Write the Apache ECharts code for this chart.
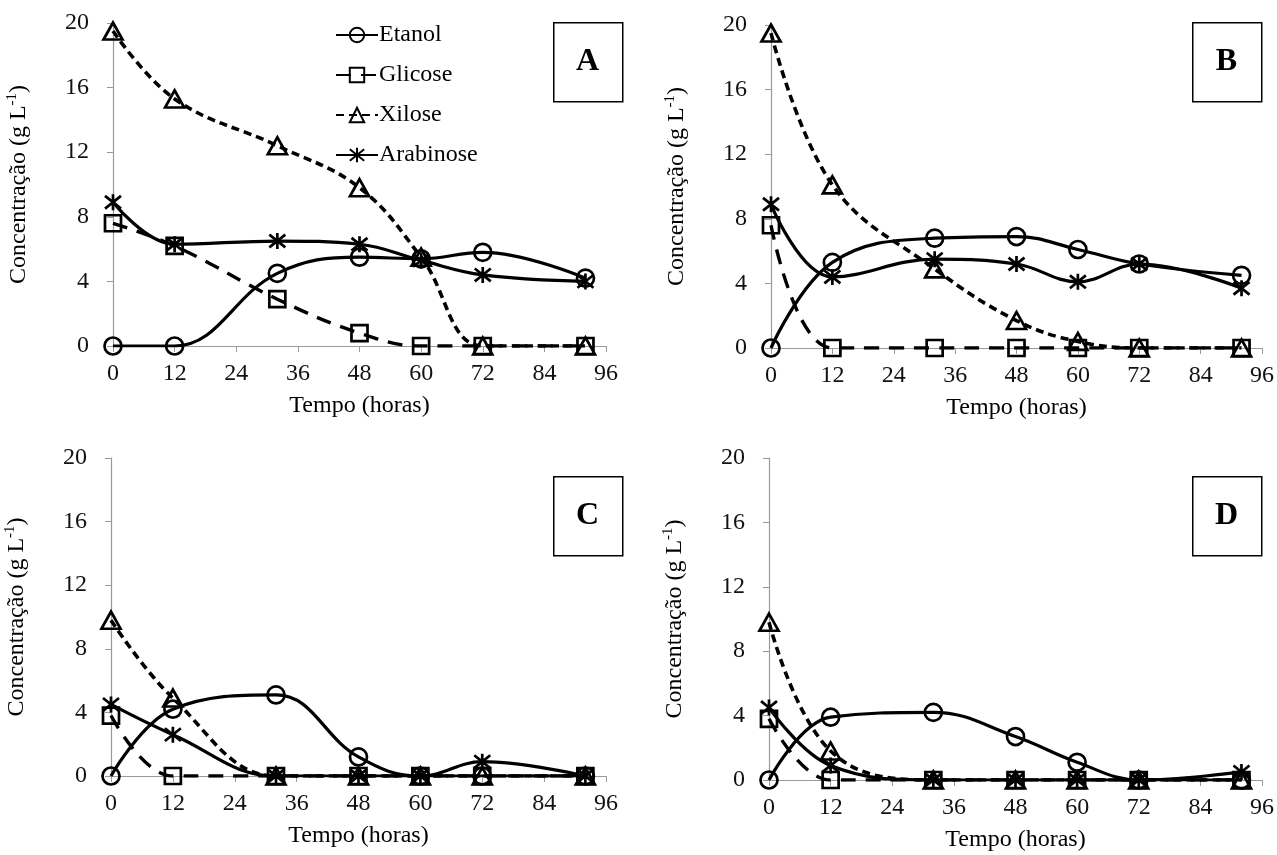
<!DOCTYPE html>
<html>
<head>
<meta charset="utf-8">
<script src="https://cdn.jsdelivr.net/npm/echarts@6/dist/echarts.min.js"></script>
<style>
html, body { margin: 0; padding: 0; background: #fff; }
#chart { width: 1277px; height: 855px; }
</style>
</head>
<body>
<div id="chart"></div>
<script>
// tempo de amostragem (horas)
var tempo = [0, 12, 32, 48, 60, 72, 92];
var nomes = ['Etanol', 'Glicose', 'Xilose', 'Arabinose'];
var paineis = ['A', 'B', 'C', 'D'];

// painel A
var etanolA = [0, 0, 4.5, 5.5, 5.4, 5.8, 4.2];
var glicoseA = [7.6, 6.2, 2.9, 0.8, 0, 0, 0];
var xiloseA = [19.5, 15.3, 12.4, 9.8, 5.5, 0, 0];
var arabinoseA = [8.9, 6.3, 6.5, 6.3, 5.3, 4.4, 4.0];
// painel B
var etanolB = [0, 5.3, 6.8, 6.9, 6.1, 5.2, 4.5];
var glicoseB = [7.6, 0, 0, 0, 0, 0, 0];
var xiloseB = [19.5, 10.1, 4.9, 1.7, 0.4, 0, 0];
var arabinoseB = [8.9, 4.4, 5.5, 5.2, 4.1, 5.2, 3.7];
// painel C
var etanolC = [0, 4.2, 5.1, 1.2, 0, 0, 0];
var glicoseC = [3.8, 0, 0, 0, 0, 0, 0];
var xiloseC = [9.8, 4.9, 0, 0, 0, 0, 0];
var arabinoseC = [4.5, 2.6, 0, 0, 0, 0.9, 0];
// painel D
var etanolD = [0, 3.9, 4.2, 2.7, 1.1, 0, 0];
var glicoseD = [3.8, 0, 0, 0, 0, 0, 0];
var xiloseD = [9.8, 1.8, 0, 0, 0, 0, 0];
var arabinoseD = [4.5, 0.9, 0, 0, 0, 0, 0.5];

var dados = [
    [etanolA, glicoseA, xiloseA, arabinoseA],
    [etanolB, glicoseB, xiloseB, arabinoseB],
    [etanolC, glicoseC, xiloseC, arabinoseC],
    [etanolD, glicoseD, xiloseD, arabinoseD]
];

var fonte = 'Liberation Serif';

// posicao de cada grafico (pixels)
var grids = [
    { left: 113, top: 23, width: 493, height: 323 },
    { left: 771, top: 25, width: 491, height: 323 },
    { left: 111, top: 458, width: 495, height: 318 },
    { left: 769, top: 458, width: 494, height: 322 }
];
// caixas com as letras
var caixas = [
    { x: 553, y: 22 }, { x: 1192, y: 22 }, { x: 553, y: 476 }, { x: 1192, y: 476 }
];

// estilo de cada serie: simbolo, tamanho, tracejado
var estilos = [
    { symbol: 'circle', size: 17, type: 'solid', w: 3.2 },
    { symbol: 'rect', size: 16, type: [15, 10], w: 3.4 },
    { symbol: 'triangle', size: [19, 17], type: [8, 5], w: 3.6 },
    { symbol: 'path://M10,0L10,20M0,2L20,18M0,18L20,2', size: 16, type: 'solid', w: 3.2 }
];

var xAxis = [], yAxis = [], series = [], graphic = [];
grids.forEach(function (g, i) {
    xAxis.push({
        gridIndex: i, type: 'value', min: 0, max: 96, interval: 12,
        name: 'Tempo (horas)', nameLocation: 'middle', nameGap: 48,
        nameTextStyle: { fontFamily: fonte, fontSize: 24, color: '#000' },
        axisLine: { lineStyle: { color: '#9a9a9a', width: 1.2 } },
        axisTick: { show: true, length: 6, lineStyle: { color: '#9a9a9a' } },
        axisLabel: { fontFamily: fonte, fontSize: 24, color: '#111', margin: 16 },
        splitLine: { show: false }
    });
    yAxis.push({
        gridIndex: i, type: 'value', min: 0, max: 20, interval: 4,
        name: 'Concentração (g L{sup|-1})', nameLocation: 'middle', nameGap: 80,
        nameTextStyle: {
            fontFamily: fonte, fontSize: 24, color: '#000', lineHeight: 28,
            rich: { sup: { fontFamily: fonte, fontSize: 15, color: '#000', verticalAlign: 'top', lineHeight: 15 } }
        },
        axisLine: { show: true, lineStyle: { color: '#9a9a9a', width: 1.2 } },
        axisTick: { show: true, length: 6, lineStyle: { color: '#9a9a9a' } },
        axisLabel: { fontFamily: fonte, fontSize: 24, color: '#111', margin: 24 },
        splitLine: { show: false }
    });
    dados[i].forEach(function (valores, k) {
        var e = estilos[k];
        series.push({
            name: nomes[k], type: 'line', xAxisIndex: i, yAxisIndex: i,
            smooth: 0.4,
            data: tempo.map(function (t, j) { return [t, valores[j]]; }),
            symbol: e.symbol, symbolSize: e.size,
            itemStyle: { color: 'rgba(0,0,0,0)', borderColor: '#000', borderWidth: 2.7 },
            lineStyle: { color: '#000', width: e.w, type: e.type },
            emphasis: { disabled: true },
            z: 2
        });
    });
    var c = caixas[i];
    graphic.push({
        type: 'rect', left: c.x, top: c.y,
        shape: { width: 69, height: 79 },
        style: { fill: '#fff', stroke: '#000', lineWidth: 1.5 }
    });
    graphic.push({
        type: 'text', x: c.x + 34.5, y: c.y + 40,
        style: { text: paineis[i], fontFamily: fonte, fontSize: 32, fontWeight: 'bold', fill: '#000', align: 'center', verticalAlign: 'middle' }
    });
});

var chart = echarts.init(document.getElementById('chart'));
chart.setOption({
    backgroundColor: '#fff',
    animation: false,
    grid: grids,
    xAxis: xAxis,
    yAxis: yAxis,
    legend: {
        data: nomes, orient: 'vertical', left: 335, top: 23, padding: 0,
        itemWidth: 42, itemHeight: 18, itemGap: 16,
        textStyle: { fontFamily: fonte, fontSize: 24, color: '#000', padding: [0, 0, 0, -4] }
    },
    graphic: graphic,
    series: series
});
</script>
</body>
</html>
